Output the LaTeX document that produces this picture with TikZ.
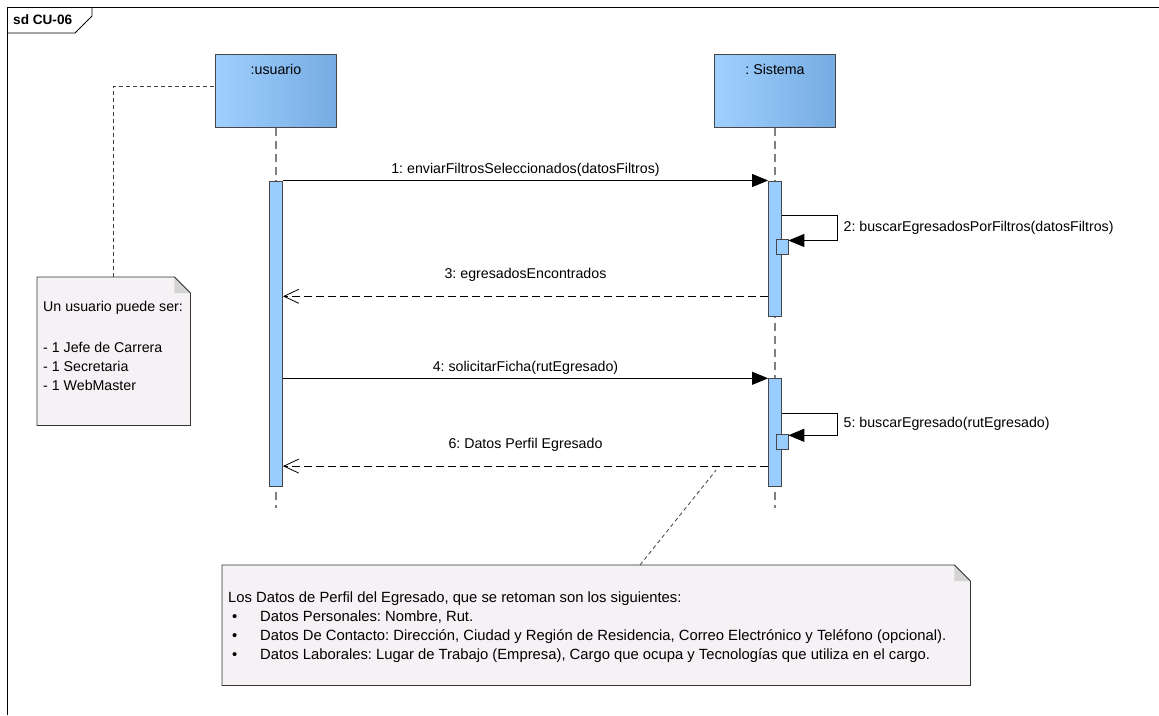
\documentclass[tikz,border=0pt]{standalone}
\usepackage{fontspec}
\setmainfont{Liberation Sans}
\usetikzlibrary{arrows.meta, positioning, calc}
\definecolor{headL}{RGB}{160,207,255}
\definecolor{headR}{RGB}{118,172,226}
\definecolor{actfill}{RGB}{153,204,255}
\definecolor{notefill}{RGB}{245,241,245}
\definecolor{foldgray}{RGB}{212,212,212}
\definecolor{edgegray}{RGB}{70,70,70}
\tikzset{
  every node/.style={font=\fontsize{14.2}{19}\selectfont},
  head/.style={rectangle, draw=edgegray, line width=1pt, left color=headL, right color=headR, minimum width=121pt, minimum height=73pt},
  act/.style={rectangle, draw=edgegray, line width=0.8pt, fill=actfill, minimum width=13pt, inner sep=0},
  lifeline/.style={draw=gray, line width=1.3pt, dash pattern=on 8pt off 5pt},
  syncmsg/.style={-{Triangle[length=16pt,width=13pt]}, line width=0.8pt},
  retmsg/.style={-{Straight Barb[length=15pt,width=14pt]}, line width=0.8pt, dash pattern=on 8pt off 4pt},
  notelink/.style={draw=black!75, line width=0.8pt, dash pattern=on 4pt off 3pt},
  notebox/.style={rectangle, inner sep=0},
}
\newcommand{\dogear}[2][16pt]{%
  \filldraw[fill=notefill, draw=black!80, line width=0.8pt] (#2.north west) -- ([xshift=-#1]#2.north east) -- ([yshift=-#1]#2.north east) -- (#2.south east) -- (#2.south west) -- cycle;
  \fill[foldgray] ([xshift=-#1]#2.north east) -- ([xshift=-#1,yshift=-#1]#2.north east) -- ([yshift=-#1]#2.north east) -- cycle;
  \draw[draw=black!80, line width=0.8pt] ([xshift=-#1]#2.north east) -- ([yshift=-#1]#2.north east);}

\begin{document}
\frenchspacing
\begin{tikzpicture}[x=1pt, y=-1pt]
\useasboundingbox (0,0) rectangle (1159,715);
%frame
\draw[line width=0.8pt] (1159,7) -- (7,7) -- (7,715);
\draw[line width=0.8pt] (92,7) -- (92,16) -- (75,33) -- (7,33);
\node[anchor=west, inner sep=0, font=\bfseries\fontsize{13.6}{16}\selectfont] (sdlabel) at (13,20) {sd CU-06};
%lifeline heads
\node[head, label={[anchor=north, yshift=-7pt]north:{:usuario}}] (usr) at (276,90.5) {};
\node[head, label={[anchor=north, yshift=-7pt]north:{: Sistema}}] (sys) at (775,90.5) {};
\coordinate (usrend) at (276,508);
\coordinate (sysend) at (775,508);
\draw[lifeline] (usr.south) -- (usrend);
\draw[lifeline] (sys.south) -- (sysend);
%activations
\node[act, minimum height=305pt, below=53pt of usr] (actusr) {};
\node[act, minimum height=135pt, below=53pt of sys] (actsys1) {};
\node[act, minimum height=108pt, below=62pt of actsys1] (actsys2) {};
\node[act, minimum width=12pt, minimum height=15pt, anchor=north] (self2) at ([yshift=-58pt]actsys1.north east) {};
\node[act, minimum width=12pt, minimum height=15pt, anchor=north] (self5) at ([yshift=-56pt]actsys2.north east) {};
%messages
\draw[syncmsg] (actusr.north east) -- (actsys1.north west) node[midway, above] (m1) {1: enviarFiltrosSeleccionados(datosFiltros)};
\draw[syncmsg] ([yshift=-35pt]actsys1.north east) -- ++(55,0) |- ([yshift=-2pt]self2.north east) node[pos=0.25, right=3pt] (m2) {2: buscarEgresadosPorFiltros(datosFiltros)};
\coordinate (r3) at ([yshift=20pt]actsys1.south west);
\draw[retmsg] (r3) -- (r3 -| actusr.east) node[midway, above=11pt] (m3) {3: egresadosEncontrados};
\draw[syncmsg] (actusr.east |- actsys2.north) -- (actsys2.north west) node[midway, above] (m4) {4: solicitarFicha(rutEgresado)};
\draw[syncmsg] ([yshift=-35pt]actsys2.north east) -- ++(55,0) |- ([yshift=-1pt]self5.north east) node[pos=0.25, right=3pt] (m5) {5: buscarEgresado(rutEgresado)};
\coordinate (r6) at ([yshift=21pt]actsys2.south west);
\draw[retmsg] (r6) -- (r6 -| actusr.east) node[midway, above=11pt] (m6) {6: Datos Perfil Egresado};
%note on usuario
\node[notebox, minimum width=153pt, minimum height=148pt, anchor=north west] (noteusr) at (37,277) {};
\dogear{noteusr}
\node[anchor=north west, align=left, inner sep=0] (noteusrtxt) at ([xshift=6pt,yshift=-24pt]noteusr.north west) {Un usuario puede ser:\\[22pt]- 1 Jefe de Carrera\\- 1 Secretaria\\- 1 WebMaster};
\draw[notelink] (noteusr.north) |- ([yshift=4pt]usr.west);
%note on perfil
\node[notebox, minimum width=748pt, minimum height=120pt, anchor=north west] (noteperfil) at (222,565) {};
\dogear{noteperfil}
\node[anchor=north west, align=left, inner sep=0, font=\fontsize{14.8}{19}\selectfont] (noteperfiltxt) at ([xshift=6pt,yshift=-27pt]noteperfil.north west) {Los Datos de Perfil del Egresado, que se retoman son los siguientes:\\
\hspace*{4pt}\makebox[28pt][l]{\textbullet}Datos Personales: Nombre, Rut.\\
\hspace*{4pt}\makebox[28pt][l]{\textbullet}Datos De Contacto: Dirección, Ciudad y Región de Residencia, Correo Electrónico y Teléfono (opcional).\\
\hspace*{4pt}\makebox[28pt][l]{\textbullet}Datos Laborales: Lugar de Trabajo (Empresa), Cargo que ocupa y Tecnologías que utiliza en el cargo.};
\coordinate (m6foot) at ([xshift=-52pt,yshift=-4pt]r6);
\draw[notelink] ([xshift=418pt]noteperfil.north west) -- (m6foot);
\end{tikzpicture}
\end{document}
